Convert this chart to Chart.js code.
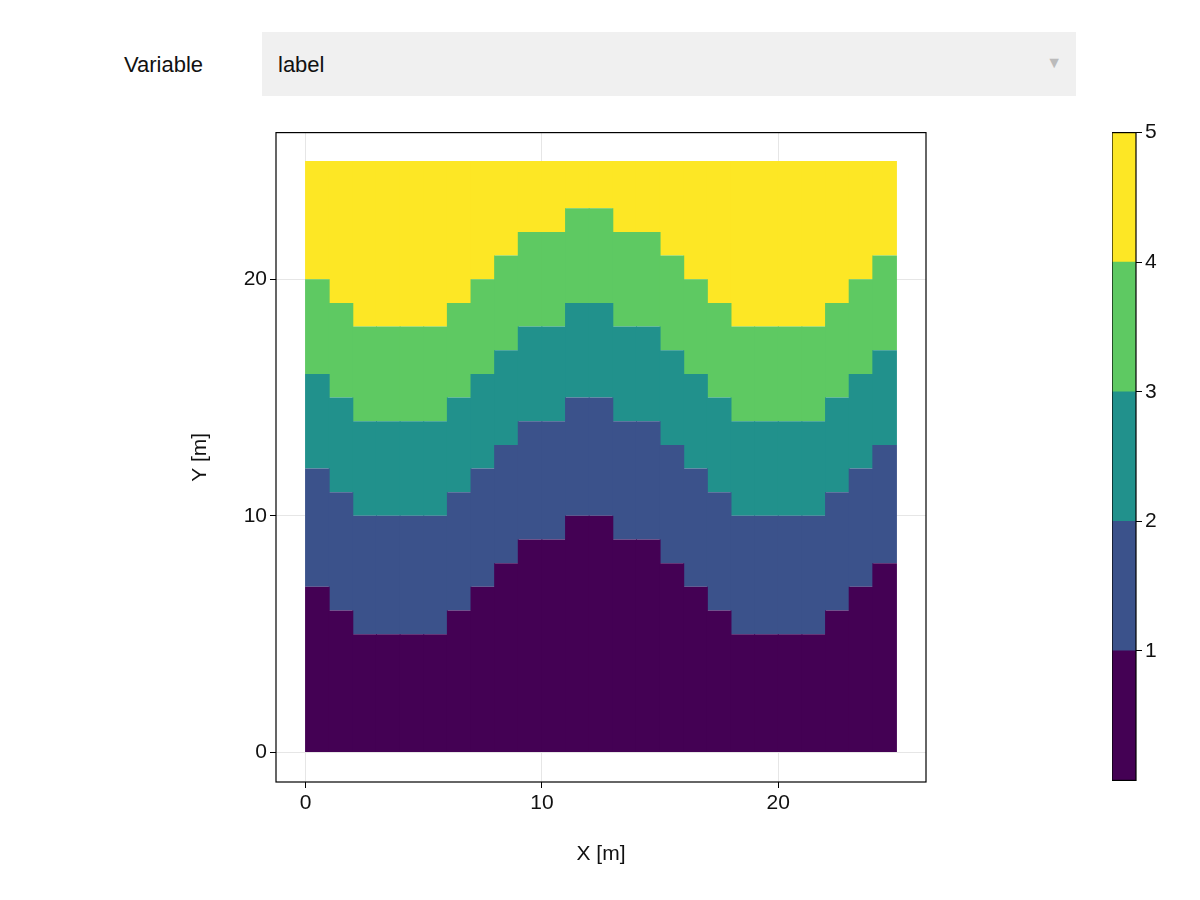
<!DOCTYPE html>
<html lang="en">
<head>
  <meta charset="UTF-8">
  <title>label</title>
  <script src="https://cdn.jsdelivr.net/npm/chart.js"></script>
  <style>
    body { margin: 0; width: 1200px; height: 900px; background: #fff; font-family: 'Liberation Sans', Arial, sans-serif; position: relative; overflow: hidden; }
    .var-label { position: absolute; left: 124px; top: 52px; font-size: 22px; color: #111; }
    .select { position: absolute; left: 262px; top: 32px; width: 814px; height: 64px; background: #f0f0f0; }
    .select span { position: absolute; left: 16px; top: 20px; font-size: 22px; color: #111; }
    .select i { position: absolute; right: 14px; top: 22px; font-style: normal; font-size: 16px; color: #bbb; }
    #main { position: absolute; left: 184px; top: 117px; }
    #cbar { position: absolute; left: 1112px; top: 117px; }
  </style>
</head>
<body>
<div class="var-label">Variable</div>
<div class="select"><span>label</span><i>▼</i></div>
<canvas id="main" width="752" height="754"></canvas>
<canvas id="cbar" width="80" height="679"></canvas>
<script>
// top edge of each label layer per column (x = 0..24), top layer runs to 25
const columns = [0,1,2,3,4,5,6,7,8,9,10,11,12,13,14,15,16,17,18,19,20,21,22,23,24];
const top0 = [7,6,5,5,5,5,6,7,8,9,9,10,10,9,9,8,7,6,5,5,5,5,6,7,8];
const top1 = [12,11,10,10,10,10,11,12,13,14,14,15,15,14,14,13,12,11,10,10,10,10,11,12,13];
const top2 = [16,15,14,14,14,14,15,16,17,18,18,19,19,18,18,17,16,15,14,14,14,14,15,16,17];
const top3 = [20,19,18,18,18,18,19,20,21,22,22,23,23,22,22,21,20,19,18,18,18,18,19,20,21];
const top4 = [25,25,25,25,25,25,25,25,25,25,25,25,25,25,25,25,25,25,25,25,25,25,25,25,25];
const colors = ['#440154', '#3b528b', '#21918c', '#5ec962', '#fde725'];
const axisTicks = [0, 10, 20];
const cbarTicks = [1, 2, 3, 4, 5];

Chart.defaults.font.family = "'Liberation Sans', Arial, sans-serif";
Chart.defaults.font.size = 21;
Chart.defaults.color = '#111';

const layers = [null, top0, top1, top2, top3, top4];
const datasets = [];
for (let k = 1; k < layers.length; k++) {
  datasets.push({
    data: columns.map((c, i) => ({ x: c + 0.5, y: [k === 1 ? 0 : layers[k - 1][i], layers[k][i]] })),
    backgroundColor: colors[k - 1],
    borderWidth: 0,
    barPercentage: 1.04,  // slight overlap hides anti-alias seams between columns
    categoryPercentage: 1,
    grouped: false
  });
}

const frame = {
  id: 'frame',
  afterDraw(chart) {
    const a = chart.chartArea, ctx = chart.ctx;
    ctx.save();
    ctx.strokeStyle = '#000';
    ctx.lineWidth = 1.2;
    ctx.strokeRect(a.left, a.top, a.right - a.left, a.bottom - a.top);
    ctx.restore();
  }
};

new Chart(document.getElementById('main'), {
  type: 'bar',
  data: { datasets },
  options: {
    responsive: false,
    animation: false,
    layout: { padding: { top: 15, right: 10, left: 0, bottom: 0 } },
    plugins: { legend: { display: false }, tooltip: { enabled: false } },
    scales: {
      x: {
        type: 'linear', min: -1.25, max: 26.25, offset: false,
        afterFit: s => { s.height = 89; },
        afterBuildTicks: s => { s.ticks = axisTicks.map(v => ({ value: v })); },
        grid: { color: '#e6e6e6', tickColor: '#000', tickLength: 6, offset: false },
        border: { display: false },
        title: { display: true, text: 'X [m]', padding: { top: 0 } }
      },
      y: {
        type: 'linear', min: -1.25, max: 26.2,
        afterFit: s => { s.width = 92; },
        afterBuildTicks: s => { s.ticks = axisTicks.map(v => ({ value: v })); },
        grid: { color: '#e6e6e6', tickColor: '#000', tickLength: 6 },
        border: { display: false },
        title: { display: true, text: 'Y [m]', padding: { bottom: 0 } }
      }
    }
  },
  plugins: [frame]
});

new Chart(document.getElementById('cbar'), {
  type: 'bar',
  data: {
    labels: [''],
    datasets: colors.map((c, k) => ({
      data: [[k, k + 1]], backgroundColor: c, borderWidth: 0,
      barPercentage: 1, categoryPercentage: 1, grouped: false
    }))
  },
  options: {
    responsive: false,
    animation: false,
    layout: { padding: { top: 15, bottom: 15, left: 0, right: 0 } },
    plugins: { legend: { display: false }, tooltip: { enabled: false } },
    scales: {
      x: { display: false },
      y: {
        position: 'right', min: 0, max: 5,
        afterFit: s => { s.width = 56; },
        afterBuildTicks: s => { s.ticks = cbarTicks.map(v => ({ value: v })); },
        grid: { drawOnChartArea: false, tickColor: '#000', tickLength: 6 },
        border: { display: false }
      }
    }
  },
  plugins: [frame]
});
</script>
</body>
</html>
